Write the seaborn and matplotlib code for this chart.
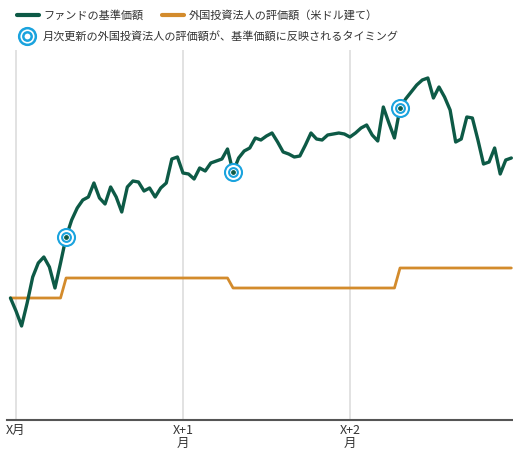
import numpy as np
import pandas as pd
import matplotlib
matplotlib.use("Agg")
import matplotlib.pyplot as plt
from matplotlib.lines import Line2D
from matplotlib.legend_handler import HandlerTuple
import seaborn as sns

sns.set_style("white")
plt.rcParams['font.family'] = ['Noto Sans CJK JP', 'DejaVu Sans']

# 日数（X月初 = 0）
days = list(range(-1, 90))

# ファンドの基準価額（指数、任意単位）
fund = [122, 109, 94, 117, 143, 157, 163, 153, 132, 157,
        183, 200, 212, 220, 223, 237, 222, 216, 233, 223,
        208, 233, 239, 238, 229, 232, 223, 232, 237, 261,
        263, 247, 246, 241, 252, 249, 257, 259, 261, 271,
        248, 262, 269, 272, 282, 280, 284, 287, 278, 268,
        266, 263, 264, 275, 287, 281, 280, 285, 286, 287,
        286, 283, 287, 292, 295, 285, 279, 313, 297, 282,
        312, 321, 328, 335, 340, 342, 322, 333, 323, 310,
        278, 281, 303, 302, 280, 256, 258, 272, 246, 260,
        262]

# 外国投資法人の評価額（米ドル建て）
foreign = [122] * 10 + [142] * 30 + [132] * 30 + [152] * 21

# 月次更新の反映タイミング
update_days = [9, 39, 69]

tick_days = [0, 30, 60]
tick_labels = ["X月", "X+1\n月", "X+2\n月"]

green = "#0d5a46"
orange = "#d38b2c"
blue = "#1aa3de"

df = pd.DataFrame({"day": days, "fund": fund, "foreign": foreign})

fig = plt.figure(figsize=(5.13, 4.51), dpi=100)
ax = fig.add_axes([7 / 513, 31 / 451, 506 / 513, 370 / 451])

for d in tick_days:
    ax.axvline(d, color="#dddddd", lw=1.2, zorder=0)

sns.lineplot(data=df, x="day", y="foreign", ax=ax, color=orange, lw=2.0, zorder=2)
sns.lineplot(data=df, x="day", y="fund", ax=ax, color=green, lw=2.4, zorder=3)

upd = df[df["day"].isin(update_days)]
ax.scatter(upd["day"], upd["fund"], s=150, facecolor="white", edgecolor=blue, lw=1.5, zorder=4)
ax.scatter(upd["day"], upd["fund"], s=40, facecolor="white", edgecolor=blue, lw=1.5, zorder=5)
ax.scatter(upd["day"], upd["fund"], s=6, color=green, zorder=6)

ax.set_xlim(-1.62, 89.3)
ax.set_ylim(0, 370)
ax.set_xticks(tick_days)
ax.set_xticklabels(tick_labels, fontsize=9, color="#333333", linespacing=1.0, va="top")
ax.tick_params(axis="x", length=0, pad=3)
ax.set_yticks([])
ax.set_xlabel("")
ax.set_ylabel("")
for s in ["top", "right", "left"]:
    ax.spines[s].set_visible(False)
ax.spines["bottom"].set_color("#555555")
ax.spines["bottom"].set_linewidth(1.5)

h1 = Line2D([], [], color=green, lw=3)
h2 = Line2D([], [], color=orange, lw=3)
leg1 = fig.legend([h1, h2], ["ファンドの基準価額", "外国投資法人の評価額（米ドル建て）"],
                  loc="upper left", bbox_to_anchor=(17 / 513, 1 - 10 / 451), ncol=2,
                  frameon=False, fontsize=8, handlelength=2.0, handletextpad=0.4,
                  columnspacing=1.6, borderpad=0, borderaxespad=0)
for t in leg1.get_texts():
    t.set_color("#333333")

ring_o = Line2D([], [], ls="none", marker="o", ms=12, mfc="white", mec=blue, mew=1.8)
ring_i = Line2D([], [], ls="none", marker="o", ms=6, mfc="white", mec=blue, mew=1.8)
leg2 = fig.legend([(ring_o, ring_i)], ["月次更新の外国投資法人の評価額が、基準価額に反映されるタイミング"],
                  handler_map={tuple: HandlerTuple(ndivide=1, pad=0)},
                  loc="upper left", bbox_to_anchor=(19 / 513, 1 - 31 / 451),
                  frameon=False, fontsize=8, handlelength=1.5, handletextpad=0.6,
                  borderpad=0, borderaxespad=0)
for t in leg2.get_texts():
    t.set_color("#333333")

fig.savefig("out.png", dpi=100)
